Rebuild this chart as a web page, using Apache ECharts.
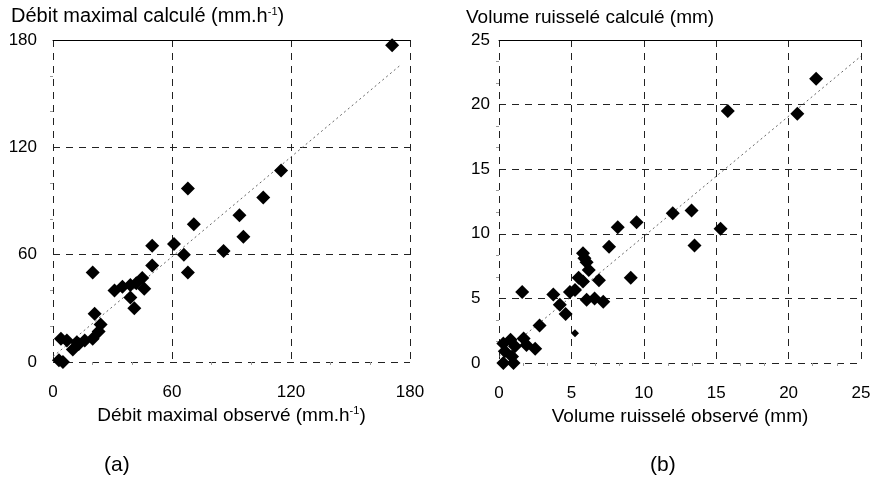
<!DOCTYPE html>
<html>
<head>
<meta charset="utf-8">
<script src="https://cdn.jsdelivr.net/npm/echarts@6/dist/echarts.min.js"></script>
<style>html,body{margin:0;padding:0;background:#fff}#c{width:878px;height:497px}</style>
</head>
<body>
<div id="c"></div>
<script>
// (a) Débit maximal
const debitTicks = [0, 60, 120, 180];
const debitObs  = [3, 5, 4, 7, 10, 12, 13, 16, 20, 21, 24, 23, 20, 31, 35, 39, 42, 45, 46, 39, 41, 50, 50, 61, 66, 68, 86, 71, 96, 94, 68, 106, 115, 171];
const debitCalc = [1, 0, 13, 12, 7, 11, 10, 12, 13, 27, 21, 17, 50, 40, 42, 43, 44, 47, 41, 36, 30, 54, 65, 66, 60, 50, 62, 77, 70, 82, 97, 92, 107, 177];
const debitFitX = [0, 175];
const debitFitY = [3, 165.8];

// (b) Volume ruisselé
const volTicks = [0, 5, 10, 15, 20, 25];
const volObs  = [0.3, 1.0, 0.4, 0.9, 0.3, 0.8, 1.1, 1.7, 1.9, 2.5, 2.8, 1.6, 3.75, 4.2, 4.6, 4.9, 5.25, 5.5, 5.8, 5.8, 5.9, 6.05, 6.2, 6.9, 6.05, 6.6, 7.2, 7.6, 8.2, 9.5, 9.1, 12, 13.3, 13.5, 15.3, 15.8, 20.6, 21.9];
const volCalc = [0, 0, 0.9, 0.5, 1.5, 1.8, 1.3, 1.9, 1.4, 1.1, 2.9, 5.5, 5.3, 4.5, 3.8, 5.5, 5.65, 6.6, 6.3, 8.5, 8.1, 7.8, 7.2, 6.4, 4.9, 5.0, 4.75, 9.0, 10.5, 10.9, 6.6, 11.6, 11.8, 9.1, 10.4, 19.5, 19.3, 22];
const volObsSmall  = [5.25];
const volCalcSmall = [2.3];
const volFitX = [0, 25];
const volFitY = [0.5, 23.75];

const zip = (a, b) => a.map((v, i) => [v, b[i]]);
const FONT = 'Liberation Sans, Arial, sans-serif';
const sup = { fontSize: 11, verticalAlign: 'top', padding: [0, 0, 9, 0], fontFamily: FONT, color: '#000' };

function valAxis(ticks, extra) {
  return Object.assign({
    type: 'value',
    min: ticks[0], max: ticks[ticks.length - 1],
    interval: ticks[1] - ticks[0],
    axisLine: { show: false },
    axisTick: { show: false },
    minorTick: { show: true, splitNumber: 3, length: 3, lineStyle: { color: '#999' } },
    splitLine: { show: true, lineStyle: { color: '#222', type: [7, 6], width: 1 } },
    axisLabel: { color: '#000', fontSize: 17, fontFamily: FONT }
  }, extra || {});
}
function topAxis(ticks, gridIndex) {
  return {
    type: 'value', gridIndex, position: 'top',
    min: ticks[0], max: ticks[ticks.length - 1], interval: ticks[1] - ticks[0],
    axisLine: { show: true, lineStyle: { color: '#000', width: 1 } },
    axisTick: { show: false }, axisLabel: { show: false }, splitLine: { show: false }
  };
}

const chart = echarts.init(document.getElementById('c'), null, { renderer: 'canvas' });
chart.setOption({
  animation: false,
  backgroundColor: '#fff',
  textStyle: { fontFamily: FONT },
  title: [
    { text: 'Débit maximal calculé (mm.h{s|-1})', left: 6, top: 1,
      textStyle: { fontSize: 20, fontWeight: 'normal', color: '#000', fontFamily: FONT, rich: { s: sup } } },
    { text: 'Volume ruisselé calculé (mm)', left: 461, top: 3,
      textStyle: { fontSize: 19, fontWeight: 'normal', color: '#000', fontFamily: FONT } },
    { text: '(a)', left: 99, top: 450, textStyle: { fontSize: 21, fontWeight: 'normal', color: '#000', fontFamily: FONT } },
    { text: '(b)', left: 645, top: 450, textStyle: { fontSize: 21, fontWeight: 'normal', color: '#000', fontFamily: FONT } }
  ],
  grid: [
    { left: 53, right: 468, top: 40, bottom: 135 },
    { left: 499, right: 17, top: 40, bottom: 134 }
  ],
  xAxis: [
    valAxis(debitTicks, { gridIndex: 0,
      axisLabel: { color: '#000', fontSize: 17, fontFamily: FONT, margin: 22 },
      name: 'Débit maximal observé (mm.h{s|-1})', nameLocation: 'middle', nameGap: 36,
      nameTextStyle: { color: '#000', fontSize: 19, fontFamily: FONT, rich: { s: sup } } }),
    valAxis(volTicks, { gridIndex: 1,
      axisLabel: { color: '#000', fontSize: 17, fontFamily: FONT, margin: 22 },
      name: 'Volume ruisselé observé (mm)', nameLocation: 'middle', nameGap: 36,
      nameTextStyle: { color: '#000', fontSize: 19, fontFamily: FONT } }),
    topAxis(debitTicks, 0),
    topAxis(volTicks, 1)
  ],
  yAxis: [
    valAxis(debitTicks, { gridIndex: 0,
      axisLabel: { color: '#000', fontSize: 17, fontFamily: FONT, margin: 16 } }),
    valAxis(volTicks, { gridIndex: 1,
      axisLabel: { color: '#000', fontSize: 17, fontFamily: FONT, margin: 28, align: 'left' } })
  ],
  series: [
    { type: 'line', xAxisIndex: 0, yAxisIndex: 0, data: zip(debitFitX, debitFitY),
      symbol: 'none', lineStyle: { color: '#666', width: 1, type: [2, 3] }, z: 1 },
    { type: 'scatter', xAxisIndex: 0, yAxisIndex: 0, data: zip(debitObs, debitCalc),
      symbol: 'diamond', symbolSize: 14, itemStyle: { color: '#000', opacity: 1 }, z: 3 },
    { type: 'line', xAxisIndex: 1, yAxisIndex: 1, data: zip(volFitX, volFitY),
      symbol: 'none', lineStyle: { color: '#666', width: 1, type: [2, 3] }, z: 1 },
    { type: 'scatter', xAxisIndex: 1, yAxisIndex: 1, data: zip(volObs, volCalc),
      symbol: 'diamond', symbolSize: 14, itemStyle: { color: '#000', opacity: 1 }, z: 3 },
    { type: 'scatter', xAxisIndex: 1, yAxisIndex: 1, data: zip(volObsSmall, volCalcSmall),
      symbol: 'diamond', symbolSize: 8, itemStyle: { color: '#000', opacity: 1 }, z: 3 }
  ]
});
</script>
</body>
</html>
